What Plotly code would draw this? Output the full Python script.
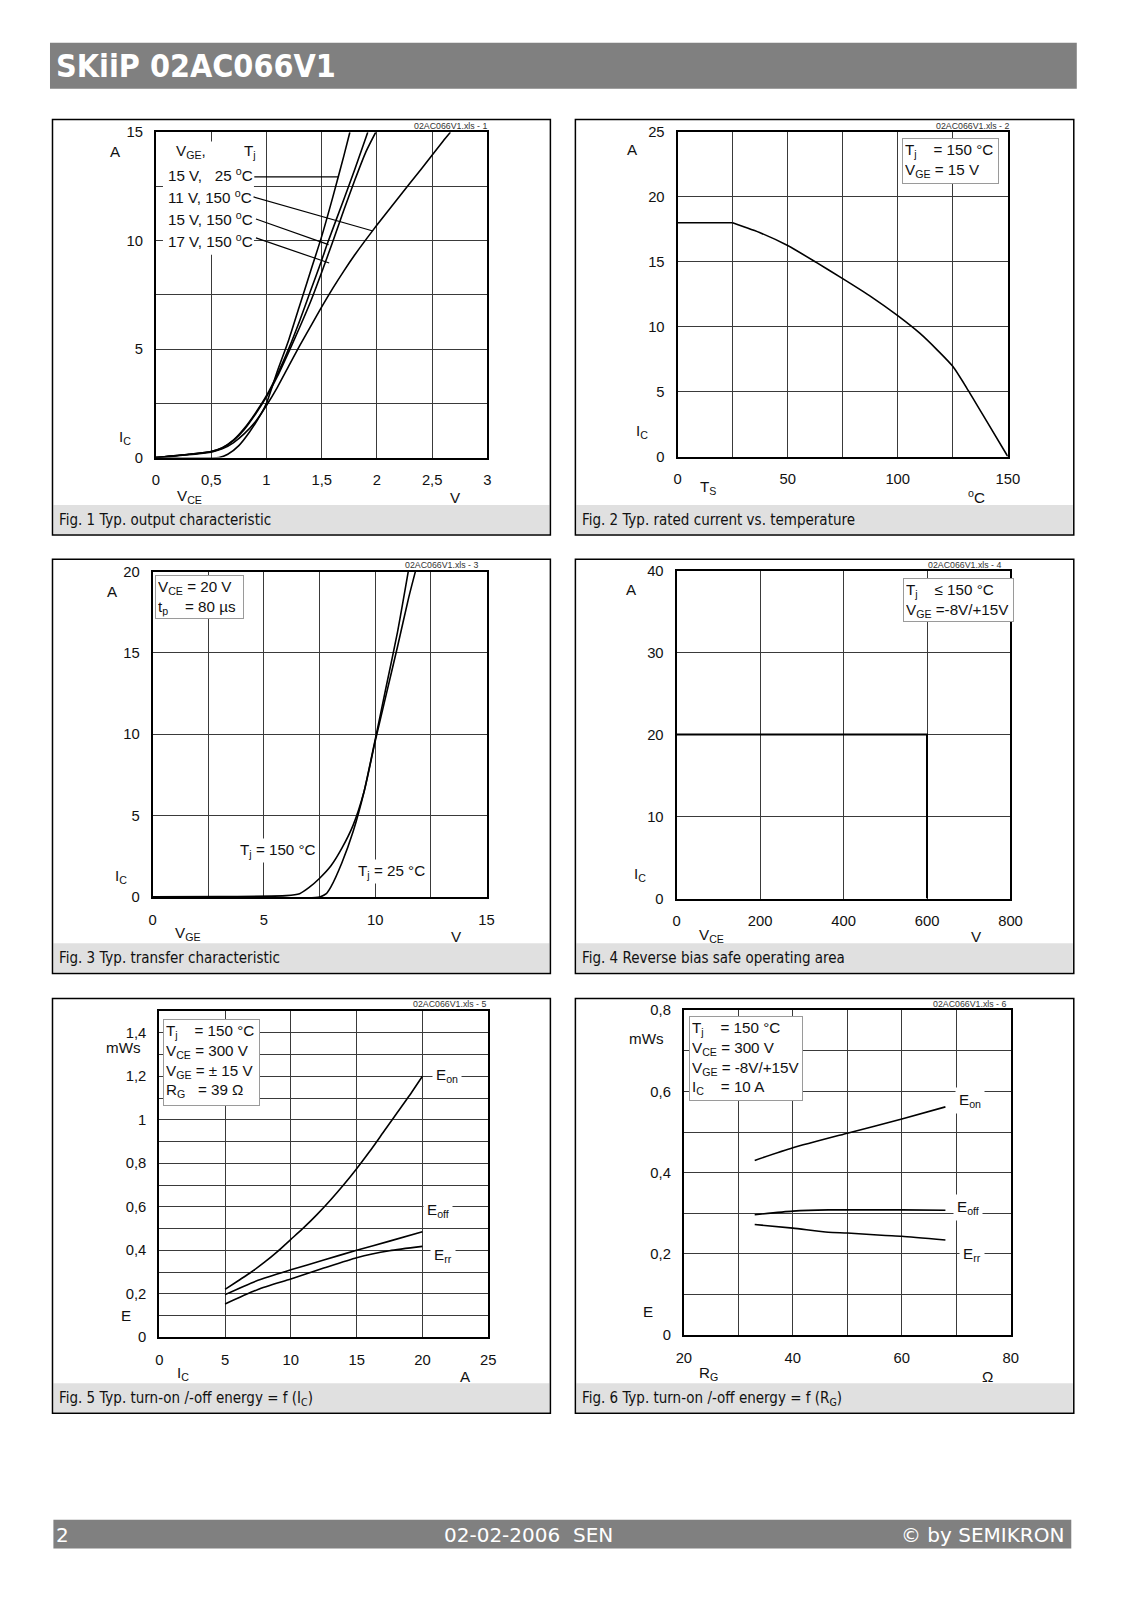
import plotly.graph_objects as go

W, H = 1099, 1568
# empirical placement of the figure in the photographed page
OX, OY, KX, KY = 16.0, 16.5, 0.982, 0.989


def fx(p):
    return (p - OX) / (KX * W)


def fy(p):
    return 1 - (p - OY) / (KY * H)


# ---------------- data ----------------
# Fig 1: output characteristic (V_CE [V] -> I_C [A])
f1_vce_15v25 = [0.0, 0.57, 0.65, 0.75, 0.85, 0.95, 1.0, 1.1, 1.2, 1.3, 1.4, 1.5, 1.6, 1.7, 1.755]
f1_ic_15v25 = [0.0, 0.0, 0.15, 0.55, 1.2, 2.0, 2.5, 4.0, 5.4, 7.0, 8.6, 10.2, 12.0, 13.9, 15.0]
f1_vce_15v150 = [0.0, 0.3, 0.5, 0.6, 0.7, 0.8, 0.9, 1.0, 1.1, 1.2, 1.3, 1.4, 1.5, 1.55, 1.7, 1.8, 1.917]
f1_ic_15v150 = [0.0, 0.15, 0.28, 0.45, 0.8, 1.35, 2.05, 2.85, 3.85, 5.0, 6.3, 7.7, 9.1, 9.85, 11.9, 13.3, 15.0]
f1_vce_17v150 = [0.0, 0.3, 0.5, 0.6, 0.7, 0.8, 0.9, 1.0, 1.1, 1.2, 1.3, 1.4, 1.5, 1.6, 1.7, 1.8, 1.9, 1.989]
f1_ic_17v150 = [0.0, 0.15, 0.28, 0.44, 0.78, 1.3, 2.0, 2.8, 3.75, 4.85, 6.0, 7.2, 8.55, 9.95, 11.4, 12.8, 14.1, 15.0]
f1_vce_11v150 = [0.0, 0.5, 0.6, 0.7, 0.8, 0.9, 1.0, 1.1, 1.2, 1.3, 1.4, 1.5, 1.6, 1.7, 1.8, 1.9, 2.0, 2.2, 2.4, 2.6, 2.665]
f1_ic_11v150 = [0.0, 0.25, 0.4, 0.68, 1.1, 1.65, 2.4, 3.25, 4.2, 5.15, 6.05, 6.95, 7.8, 8.6, 9.35, 10.05, 10.72, 12.02, 13.3, 14.6, 15.0]
f1_labels = ["15 V,\u00a0\u00a0\u00a025 <sup>o</sup>C", "11 V, 150 <sup>o</sup>C",
             "15 V, 150 <sup>o</sup>C", "17 V, 150 <sup>o</sup>C"]
f1_leader_x0 = [0.89, 0.883, 0.905, 0.905]
f1_leader_y0 = [12.94, 12.02, 11.0, 10.13]
f1_leader_x1 = [1.649, 1.956, 1.562, 1.568]
f1_leader_y1 = [12.94, 10.46, 9.82, 8.97]

# Fig 2: rated current vs temperature
f2_ts = [0, 25, 38, 50, 63, 75, 88, 100, 110, 118, 125, 132, 141, 150]
f2_ic = [18, 18, 17.2, 16.25, 14.95, 13.7, 12.3, 10.85, 9.5, 8.2, 6.95, 5.1, 2.55, 0]

# Fig 3: transfer characteristic
f3_vge_150 = [0, 3, 6, 6.6, 7.0, 7.5, 8.0, 8.5, 9.0, 9.5, 10.0, 10.5, 11.0, 11.5, 11.8]
f3_ic_150 = [0, 0.02, 0.08, 0.2, 0.55, 1.15, 1.9, 3.0, 4.4, 6.5, 9.6, 12.5, 15.4, 18.4, 20]
f3_vge_25 = [0, 7.5, 7.8, 8.0, 8.5, 9.0, 9.5, 10.0, 10.5, 11.0, 11.48]
f3_ic_25 = [0, 0, 0.2, 0.6, 2.1, 4.0, 6.5, 9.7, 13.0, 16.3, 20]

# Fig 4: RBSOA
f4_vce = [0, 600, 600]
f4_ic = [20, 20, 0]

# Fig 5: energy vs I_C
f5_ic_on = [5, 6, 7, 8, 9, 10, 11, 12, 13, 14, 15, 16, 17, 18, 19, 20]
f5_eon = [0.22, 0.26, 0.30, 0.345, 0.395, 0.45, 0.505, 0.565, 0.63, 0.70, 0.775, 0.855, 0.94, 1.025, 1.11, 1.2]
f5_ic = [5, 7.5, 10, 12.5, 15, 17.5, 20]
f5_eoff = [0.196, 0.262, 0.31, 0.355, 0.4, 0.442, 0.485]
f5_err = [0.153, 0.22, 0.268, 0.318, 0.366, 0.398, 0.418]

# Fig 6: energy vs R_G
f6_rg_on = [33, 40, 50, 60, 68]
f6_eon = [0.43, 0.461, 0.497, 0.532, 0.562]
f6_rg_off = [33, 40, 46.5, 50, 60, 68]
f6_eoff = [0.296, 0.305, 0.308, 0.308, 0.308, 0.307]
f6_rg_rr = [33, 40, 46.5, 50, 57, 60, 68]
f6_err = [0.272, 0.263, 0.253, 0.251, 0.245, 0.243, 0.234]

# tick definitions
f1_xt = [0, 0.5, 1, 1.5, 2, 2.5, 3]
f1_xl = ["0", "0,5", "1", "1,5", "2", "2,5", "3"]
f1_yt = [0, 2.5, 5, 7.5, 10, 12.5, 15]
f1_yl = ["0", "", "5", "", "10", "", "15"]
f2_xt = [0, 25, 50, 75, 100, 125, 150]
f2_xl = ["0", "", "50", "", "100", "", "150"]
f2_yt = [0, 5, 10, 15, 20, 25]
f2_yl = ["0", "5", "10", "15", "20", "25"]
f3_xt = [0, 2.5, 5, 7.5, 10, 12.5, 15]
f3_xl = ["0", "", "5", "", "10", "", "15"]
f3_yt = [0, 5, 10, 15, 20]
f3_yl = ["0", "5", "10", "15", "20"]
f4_xt = [0, 200, 400, 600, 800]
f4_xl = ["0", "200", "400", "600", "800"]
f4_yt = [0, 10, 20, 30, 40]
f4_yl = ["0", "10", "20", "30", "40"]
f5_xt = [0, 5, 10, 15, 20, 25]
f5_xl = ["0", "5", "10", "15", "20", "25"]
f5_yt = [0, 0.1, 0.2, 0.3, 0.4, 0.5, 0.6, 0.7, 0.8, 0.9, 1.0, 1.1, 1.2, 1.3, 1.4, 1.5]
f5_yl = ["0", "", "0,2", "", "0,4", "", "0,6", "", "0,8", "", "1", "", "1,2", "", "1,4", ""]
f6_xt = [20, 30, 40, 50, 60, 70, 80]
f6_xl = ["20", "", "40", "", "60", "", "80"]
f6_yt = [0, 0.1, 0.2, 0.3, 0.4, 0.5, 0.6, 0.7, 0.8]
f6_yl = ["0", "", "0,2", "", "0,4", "", "0,6", "", "0,8"]

# ---------------- layout helpers ----------------
TICKFONT = dict(family="Liberation Sans, Arial, sans-serif", size=14.8, color="#111")
LBLFONT = dict(family="Liberation Sans, Arial, sans-serif", size=15.2, color="#111")

fig = go.Figure()
layout = {}
annotations = []
shapes = []


def add_axes(n, xpx, ypx, xr, yr, xt, xl, yt, yl):
    s = "" if n == 1 else str(n)
    layout["xaxis" + s] = dict(
        domain=[fx(xpx[0]), fx(xpx[1])], anchor="y" + s, range=xr,
        tickvals=xt, ticktext=xl, ticks="", tickfont=TICKFONT,
        showgrid=True, gridcolor="#3a3a3a", gridwidth=1, zeroline=False,
        showline=True, mirror=True, linecolor="black", linewidth=2,
        ticklabelstandoff=8, fixedrange=True)
    layout["yaxis" + s] = dict(
        domain=[fy(ypx[1]), fy(ypx[0])], anchor="x" + s, range=yr,
        tickvals=yt, ticktext=yl, ticks="", tickfont=TICKFONT,
        showgrid=True, gridcolor="#3a3a3a", gridwidth=1, zeroline=False,
        showline=True, mirror=True, linecolor="black", linewidth=2,
        ticklabelstandoff=8, fixedrange=True)


def line(n, x, y, shape="spline", width=1.6):
    s = "" if n == 1 else str(n)
    fig.add_trace(go.Scatter(x=x, y=y, mode="lines", xaxis="x" + s, yaxis="y" + s,
                             line=dict(color="black", width=width, shape=shape,
                                       smoothing=0.6 if shape == "spline" else None),
                             showlegend=False, hoverinfo="skip"))


def ptext(text, x, y, font=LBLFONT, xanchor="center", yanchor="middle", **kw):
    annotations.append(dict(text=text, x=fx(x), y=fy(y), xref="paper", yref="paper",
                            showarrow=False, xanchor=xanchor, yanchor=yanchor,
                            font=font, **kw))


def prect(x0, y0, x1, y1, **kw):
    shapes.append(dict(type="rect", xref="paper", yref="paper",
                       x0=fx(x0), x1=fx(x1), y0=fy(y1), y1=fy(y0), **kw))


def infobox(text, x0, y0, x1, y1):
    annotations.append(dict(text=text, x=fx(x0), y=fy(y0), xref="paper", yref="paper",
                            showarrow=False, xanchor="left", yanchor="top", align="left",
                            valign="top", width=(x1 - x0) / KX - 6, height=(y1 - y0) / KY - 6,
                            bgcolor="white", bordercolor="#9a9a9a", borderwidth=1,
                            borderpad=2, font=LBLFONT))


# ---------------- page decorations ----------------
prect(50, 43.3, 1077, 89.3, fillcolor="#808080", line=dict(width=0), layer="below")
ptext("<b>SKiiP 02AC066V1</b>", 54, 66.5, xanchor="left",
      font=dict(family="DejaVu Sans Condensed, DejaVu Sans, sans-serif", size=32, color="white"))

prect(53.4, 1519, 1071.5, 1547.7, fillcolor="#808080", line=dict(width=0), layer="below")
FOOT = dict(family="DejaVu Sans, sans-serif", size=20, color="white")
ptext("2", 54, 1534, xanchor="left", font=FOOT)
ptext("02-02-2006\u00a0\u00a0SEN", 529, 1534, font=FOOT)
ptext("\u00a9 by SEMIKRON", 1066, 1534, xanchor="right", font=FOOT)

CAPFONT = dict(family="DejaVu Sans Condensed, DejaVu Sans, sans-serif", size=15, color="#111")
XLSFONT = dict(family="Liberation Sans, Arial, sans-serif", size=8.8, color="#333")

panels_x = [(52.5, 550.5), (575.5, 1074)]
panels_y = [(120, 535, 505), (559.3, 973.3, 943), (998.3, 1412.7, 1382.7)]
captions = ["Fig. 1 Typ. output characteristic",
            "Fig. 2 Typ. rated current vs. temperature",
            "Fig. 3 Typ. transfer characteristic",
            "Fig. 4 Reverse bias safe operating area",
            "Fig. 5 Typ. turn-on /-off energy = f (I<sub>C</sub>)",
            "Fig. 6 Typ. turn-on /-off energy = f (R<sub>G</sub>)"]
k = 0
for (py0, py1, pc) in panels_y:
    for (px0, px1) in panels_x:
        prect(px0 + 1, pc, px1 - 1, py1 - 1, fillcolor="#e0e0e0", line=dict(width=0), layer="below")
        prect(px0, py0, px1, py1, line=dict(color="black", width=1.5), layer="below")
        ptext(captions[k], px0 + 5, (pc + py1) / 2, xanchor="left", font=CAPFONT)
        k += 1

# ---------------- Fig 1 ----------------
add_axes(1, (156, 487.5), (132.7, 457.7), [0, 3], [0, 15], f1_xt, f1_xl, f1_yt, f1_yl)
line(1, f1_vce_15v25, f1_ic_15v25)
line(1, f1_vce_15v150, f1_ic_15v150)
line(1, f1_vce_17v150, f1_ic_17v150)
line(1, f1_vce_11v150, f1_ic_11v150)
prect(163, 142, 254, 255, fillcolor="white", line=dict(width=0), layer="above")
ptext("V<sub>GE</sub>,", 174, 152, xanchor="left")
ptext("T<sub>j</sub>", 242, 152, xanchor="left")
for i, t in enumerate(f1_labels):
    ptext(t, 166, 175 + i * 21.8, xanchor="left")
for i in range(4):
    shapes.append(dict(type="line", xref="x", yref="y", x0=f1_leader_x0[i], y0=f1_leader_y0[i],
                       x1=f1_leader_x1[i], y1=f1_leader_y1[i], layer="above",
                       line=dict(color="black", width=1.2)))
ptext("02AC066V1.xls - 1", 450.7, 126, font=XLSFONT)
for t, x, y in [("A", 116, 152), ("I<sub>C</sub>", 124.6, 438), ("V<sub>CE</sub>", 190, 496.7), ("V", 456, 497.7)]:
    ptext(t, x, y)

# ---------------- Fig 2 ----------------
add_axes(2, (677.7, 1008), (132.3, 456.7), [0, 150], [0, 25], f2_xt, f2_xl, f2_yt, f2_yl)
line(2, f2_ts[:2], f2_ic[:2], shape="linear")
line(2, f2_ts[1:], f2_ic[1:], shape="spline")
infobox("T<sub>j</sub>\u00a0\u00a0\u00a0 = 150 \u00b0C<br>V<sub>GE</sub> = 15 V", 902, 138, 997, 183)
ptext("02AC066V1.xls - 2", 973, 126, font=XLSFONT)
for t, x, y in [("A", 633, 150), ("I<sub>C</sub>", 642, 432), ("T<sub>S</sub>", 708, 488), ("<sup>o</sup>C", 977, 497)]:
    ptext(t, x, y)

# ---------------- Fig 3 ----------------
add_axes(3, (152.7, 486.7), (571.7, 896.7), [0, 15], [0, 20], f3_xt, f3_xl, f3_yt, f3_yl)
line(3, f3_vge_150, f3_ic_150)
line(3, f3_vge_25, f3_ic_25)
infobox("V<sub>CE</sub> = 20 V<br>t<sub>p</sub>\u00a0\u00a0\u00a0 = 80 \u00b5s", 155, 575, 242.7, 619)
annotations.append(dict(text="T<sub>j</sub> = 150 \u00b0C", x=5.63, y=2.87, xref="x3", yref="y3",
                        showarrow=False, bgcolor="white", font=LBLFONT, borderpad=2))
annotations.append(dict(text="T<sub>j</sub> = 25 \u00b0C", x=10.73, y=1.54, xref="x3", yref="y3",
                        showarrow=False, bgcolor="white", font=LBLFONT, borderpad=2))
ptext("02AC066V1.xls - 3", 441.7, 565, font=XLSFONT)
for t, x, y in [("A", 113, 591.7), ("I<sub>C</sub>", 121, 876.7), ("V<sub>GE</sub>", 188, 933), ("V", 456.7, 936)]:
    ptext(t, x, y)

# ---------------- Fig 4 ----------------
add_axes(4, (676.7, 1010.7), (570.7, 898.3), [0, 800], [0, 40], f4_xt, f4_xl, f4_yt, f4_yl)
line(4, f4_vce, f4_ic, shape="linear", width=2)
infobox("T<sub>j</sub>\u00a0\u00a0\u00a0 \u2264 150 \u00b0C<br>V<sub>GE</sub> =-8V/+15V", 903.3, 578.3, 1012.3, 621.7)
ptext("02AC066V1.xls - 4", 964.3, 565, font=XLSFONT)
for t, x, y in [("A", 631.7, 589.3), ("I<sub>C</sub>", 640, 874), ("V<sub>CE</sub>", 711.7, 935), ("V", 976.7, 936)]:
    ptext(t, x, y)

# ---------------- Fig 5 ----------------
add_axes(5, (159.3, 488.3), (1010.7, 1336.7), [0, 25], [0, 1.5], f5_xt, f5_xl, f5_yt, f5_yl)
line(5, f5_ic_on, f5_eon)
line(5, f5_ic, f5_eoff)
line(5, f5_ic, f5_err)
infobox("T<sub>j</sub>\u00a0\u00a0\u00a0 = 150 \u00b0C<br>V<sub>CE</sub> = 300 V<br>V<sub>GE</sub> = \u00b1 15 V<br>"
        "R<sub>G</sub>\u00a0\u00a0 = 39 \u03a9", 163.3, 1018.3, 259, 1104.3)
for t, x, y in [("E<sub>on</sub>", 21.88, 1.204), ("E<sub>off</sub>", 21.18, 0.583), ("E<sub>rr</sub>", 21.53, 0.376)]:
    annotations.append(dict(text=t, x=x, y=y, xref="x5", yref="y5", showarrow=False,
                            bgcolor="white", font=LBLFONT, borderpad=3))
ptext("02AC066V1.xls - 5", 449.3, 1004, font=XLSFONT)
for t, x, y in [("mWs", 123.3, 1047.3), ("E", 126, 1315), ("I<sub>C</sub>", 183.3, 1373.3), ("A", 466, 1376)]:
    ptext(t, x, y)

# ---------------- Fig 6 ----------------
add_axes(6, (684, 1011), (1010, 1334.3), [20, 80], [0, 0.8], f6_xt, f6_xl, f6_yt, f6_yl)
line(6, f6_rg_on, f6_eon)
line(6, f6_rg_off, f6_eoff)
line(6, f6_rg_rr, f6_err)
infobox("T<sub>j</sub>\u00a0\u00a0\u00a0 = 150 \u00b0C<br>V<sub>CE</sub> = 300 V<br>V<sub>GE</sub> = -8V/+15V<br>"
        "I<sub>C</sub>\u00a0\u00a0\u00a0 = 10 A", 689.3, 1015.7, 801.7, 1099.3)
for t, x, y in [("E<sub>on</sub>", 72.6, 0.578), ("E<sub>off</sub>", 72.17, 0.313), ("E<sub>rr</sub>", 72.97, 0.198)]:
    annotations.append(dict(text=t, x=x, y=y, xref="x6", yref="y6", showarrow=False,
                            bgcolor="white", font=LBLFONT, borderpad=3))
ptext("02AC066V1.xls - 6", 969.3, 1004, font=XLSFONT)
for t, x, y in [("mWs", 646.7, 1038.3), ("E", 648.3, 1310.7), ("R<sub>G</sub>", 708.3, 1373), ("\u03a9", 987.3, 1376)]:
    ptext(t, x, y)

layout.update(dict(width=W, height=H, margin=dict(l=0, r=0, t=0, b=0),
                   paper_bgcolor="white", plot_bgcolor="white",
                   annotations=annotations, shapes=shapes, showlegend=False))
fig.update_layout(**layout)
fig.write_html("out.html")
